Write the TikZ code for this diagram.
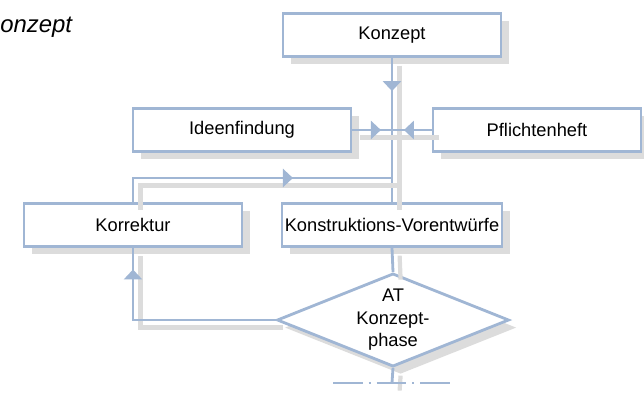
\documentclass[tikz,border=0pt]{standalone}
\usepackage{fontspec}
\setmainfont{Liberation Sans}
\usetikzlibrary{arrows.meta,positioning,calc,shapes.geometric,shadows,decorations.markings}
\definecolor{flow}{HTML}{A0B6D4}
\definecolor{shd}{HTML}{DCDCDC}

\begin{document}
\begin{tikzpicture}[x=0.025cm, y=-0.025cm,
  font=\fontsize{13}{16}\selectfont,
  box/.style={draw=flow, line width=2pt, fill=white, minimum width=5.45cm, minimum height=1.08cm, inner sep=2pt,
              drop shadow={shadow xshift=0.19cm, shadow yshift=-0.19cm, fill=shd, opacity=1}},
  entsch/.style={diamond, aspect=2.5, draw=flow, line width=2pt, fill=white, align=center, inner sep=0pt,
              minimum width=5.8cm, minimum height=2.33cm,
              drop shadow={shadow xshift=0.19cm, shadow yshift=-0.19cm, fill=shd, opacity=1}},
  con/.style={flow, line width=2pt},
  lnshd/.style={preaction={draw=shd, line width=3pt, transform canvas={shift={(0.19cm,-0.19cm)}}}},
  midarr/.style={postaction={decorate}, decoration={markings, mark=at position #1 with {\arrow{Triangle[width=0.45cm,length=0.25cm]}}}}]
\useasboundingbox (0,0) rectangle (644,395);
% Titel (links angeschnitten)
\node[font=\itshape\fontsize{17}{20}\selectfont, anchor=base west, inner sep=0pt] (titel) at (0,32) {onzept};
% Kaesten
\node[box] (kon) at (392,35) {Konzept};
\node[box] (ide) at (242,130) {Ideenfindung};
\node[box, minimum width=5.2cm] (pfl) at (537,130) {Pflichtenheft};
\node[box] (kor) at (133,225) {Korrektur};
\node[box] (kv) at (392,225) {Konstruktions-Vorentwürfe};
\node[entsch] (at) at (393,320) {AT\\Konzept-\\phase};
% Hilfspunkte
\coordinate (rueck) at (392,178);
\coordinate (cut) at (392,383);
\coordinate (cutl) at (333,383);
\coordinate (cutr) at (450,383);
% Verbindungen
\draw[con, lnshd, midarr=0.23] (kon.south) -- (kv.north);
\draw[con, lnshd, midarr=0.72] (ide.east) -- (ide.east -| kon.south);
\draw[con, lnshd, midarr=0.7] (pfl.west) -- (pfl.west -| kon.south);
\draw[con, lnshd, midarr=0.65] (kor.north) |- (rueck);
\draw[con, lnshd] (kv.south) -- (at.north);
\draw[con, lnshd, midarr=0.9] (at.west) -| (kor.south);
\draw[con, lnshd] (at.south) -- (cut);
\draw[flow, line width=1.5pt, dash pattern=on 0.74cm off 0.15cm on 0.05cm off 0.15cm] (cutl) -- (cutr);
\end{tikzpicture}
\end{document}
